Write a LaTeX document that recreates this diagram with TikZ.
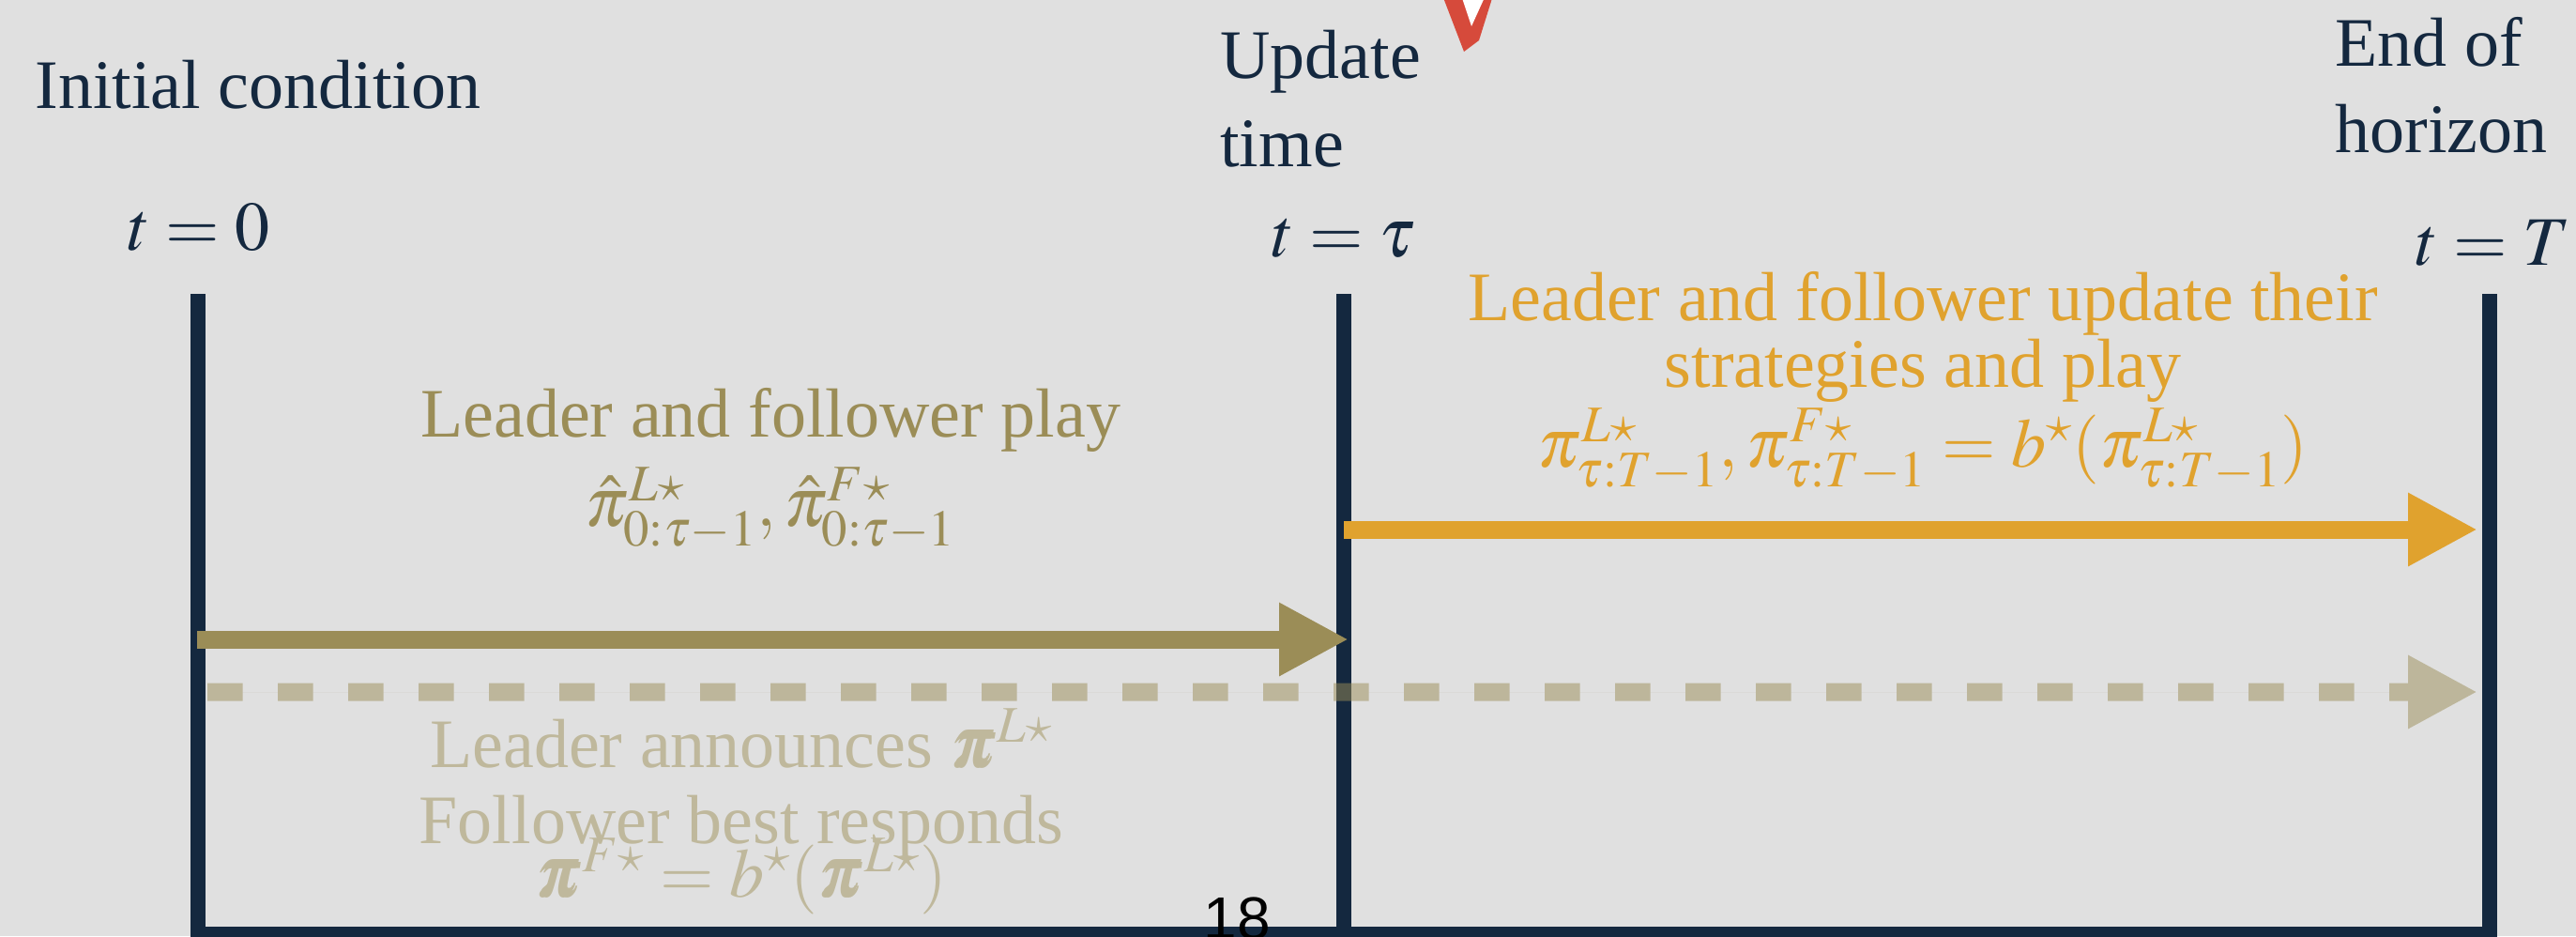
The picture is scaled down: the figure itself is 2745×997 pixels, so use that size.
\documentclass[tikz,border=0pt]{standalone}
\usepackage{mathptmx}
\usepackage{bm}
\usepackage{fontspec}
\setmainfont{Liberation Serif}
\newfontfamily\pagenumfont{Liberation Sans}
\usetikzlibrary{arrows.meta}

\definecolor{navy}{HTML}{14283F}
\definecolor{olive}{HTML}{9B8D57}
\definecolor{paleolive}{HTML}{BFB89C}
\definecolor{gold}{HTML}{E0A22E}
\definecolor{slidebg}{HTML}{E0E0E0}
\definecolor{markred}{HTML}{D64A3B}

\tikzset{
  txt/.style={inner sep=0pt, font=\fontsize{37}{44}\selectfont},
  navytxt/.style={txt, text=navy},
  olivetxt/.style={txt, text=olive},
  goldtxt/.style={txt, text=gold},
  paletxt/.style={txt, text=paleolive},
  axisline/.style={draw=navy, line width=8pt, line join=miter, line cap=butt},
  phasearrow/.style={line width=9.5pt, line cap=butt,
    -{Triangle[length=37pt, width=36.5pt]}},
}

\begin{document}
\begin{tikzpicture}[x=0.5pt, y=-0.5pt]
  \useasboundingbox (0,0) rectangle (2745,997);
  \clip (0,0) rectangle (2745,997);
  \fill[slidebg] (0,0) rectangle (2745,997);

  % red marker poking in from the top edge
  \fill[markred] (1537,-5) -- (1591,-5) -- (1576,43) -- (1560,55) -- cycle;
  \fill[white] (1557,-5) -- (1583,-5) -- (1568,28) -- cycle;

  % time axis: three vertical markers joined at the bottom
  \coordinate (start top) at (211,313);
  \coordinate (start bottom) at (211,995);
  \coordinate (update top) at (1432,313);
  \coordinate (update bottom) at (1432,995);
  \coordinate (end top) at (2653,313);
  \coordinate (end bottom) at (2653,995);
  \draw[axisline] (start top) -- (start bottom) -- (end bottom) -- (end top);
  \draw[axisline] (update top) -- (update bottom);

  % labels above the axis
  \node[navytxt, anchor=base west] (initlbl) at (37,115) {Initial condition};
  \node[navytxt, anchor=base] (t0lbl) at (212,266) {$t=0$};
  \node[navytxt, anchor=base west] (updlbl) at (1300,83) {Update};
  \node[navytxt, anchor=base west] (updlbltwo) at (1300,177) {time};
  \node[navytxt, anchor=base] (ttaulbl) at (1432,273) {$t=\tau$};
  \node[navytxt, anchor=base west] (endlbl) at (2488,70) {End of};
  \node[navytxt, anchor=base west] (endlbltwo) at (2488,162) {horizon};
  \node[navytxt, anchor=base] (tTlbl) at (2657,282) {$t=T$};

  % phase arrows
  \coordinate (play from) at (210,681);
  \coordinate (play to) at (1437,681);
  \coordinate (upd from) at (1432,564);
  \coordinate (upd to) at (2640,564);
  \coordinate (ann from) at (221,737);
  \coordinate (ann to) at (2640,737);
  \draw[phasearrow, draw=olive, fill=olive] (play from) -- (play to);
  \draw[phasearrow, draw=gold, fill=gold] (upd from) -- (upd to);
  \begin{scope}[transparency group, opacity=0.5]
    \draw[phasearrow, draw=olive, fill=olive,
          dash pattern=on 18.75pt off 18.75pt] (ann from) -- (ann to);
  \end{scope}

  % first phase text
  \node[olivetxt, anchor=base] (playlbl) at (821,465) {Leader and follower play};
  \node[olivetxt, anchor=base] (playmath) at (821,560)
    {$\hat{\pi}^{L\star}_{0:\tau-1}, \hat{\pi}^{F\star}_{0:\tau-1}$};

  % second phase text
  \node[goldtxt, anchor=base] (updtxt) at (2049,341) {Leader and follower update their};
  \node[goldtxt, anchor=base] (updtxttwo) at (2049,412) {strategies and play};
  \node[goldtxt, anchor=base] (updmath) at (2049,497)
    {$\pi^{L\star}_{\tau:T-1}, \pi^{F\star}_{\tau:T-1} = b^{\star}(\pi^{L\star}_{\tau:T-1})$};

  % announced commitment text
  \node[paletxt, anchor=base] (anntxt) at (790,817) {Leader announces $\bm{\pi}^{L\star}$};
  \node[paletxt, anchor=base] (anntxttwo) at (790,898) {Follower best responds};
  \node[paletxt, anchor=base] (annmath) at (790,955)
    {$\bm{\pi}^{F\star} = b^{\star}(\bm{\pi}^{L\star})$};

  % page number
  \node[inner sep=0pt, anchor=base west, font=\pagenumfont\fontsize{32}{38}\selectfont]
    (pagenum) at (1282,1000) {18};
\end{tikzpicture}
\end{document}
